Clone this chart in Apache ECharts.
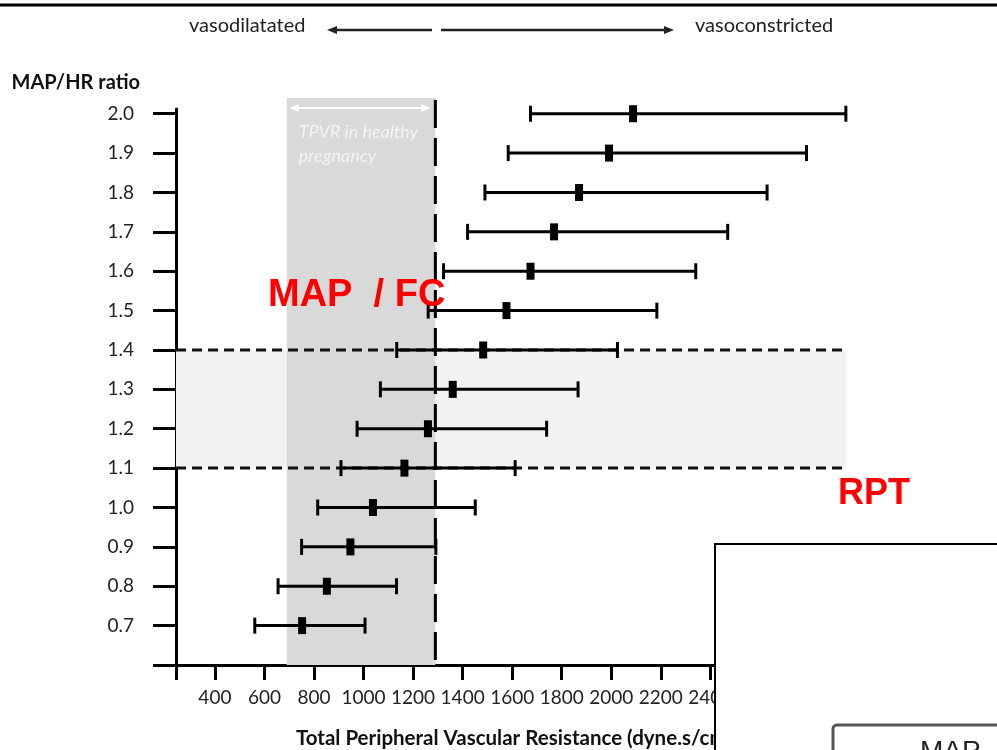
<!DOCTYPE html>
<html>
<head>
<meta charset="utf-8">
<script src="https://cdn.jsdelivr.net/npm/echarts@6.0.0/dist/echarts.min.js"></script>
<style>
  html, body { margin: 0; padding: 0; background: #fff; }
  #chart { width: 997px; height: 750px; }
</style>
</head>
<body>
<div id="chart"></div>
<script>
// MAP/HR ratio rows and TPVR (dyne.s/cm5)
var ratios   = [0.7, 0.8, 0.9, 1.0, 1.1, 1.2, 1.3, 1.4, 1.5, 1.6, 1.7, 1.8, 1.9, 2.0];
var tpvrLow  = [561, 655, 750, 815, 909, 974, 1068, 1134, 1261, 1323, 1420, 1490, 1584, 1674];
var tpvrMean = [752, 852, 947, 1038, 1165, 1260, 1360, 1483, 1577, 1674, 1769, 1870, 1991, 2088];
var tpvrHigh = [1006, 1133, 1292, 1451, 1612, 1739, 1866, 2025, 2184, 2341, 2470, 2629, 2788, 2947];

var xTickLabels = [400, 600, 800, 1000, 1200, 1400, 1600, 1800, 2000, 2200, 2400, 2600, 2800];
var yTickLabels = ratios;

var healthyRange = [690, 1290];   // TPVR in healthy pregnancy
var targetRatio = [1.1, 1.4];     // MAP/HR target band
var targetEnd = 2947;
var bandTop = 2.04;

var xMin = 243, xMax = 3000, yMin = 0.6, yMax = 2.012;

var font = 'Lato';
var chart = echarts.init(document.getElementById('chart'));

var barData = ratios.map(function (r, i) {
  return [r, tpvrLow[i], tpvrMean[i], tpvrHigh[i]];
});

var option = {
  animation: false,
  grid: { left: 176, right: 138, top: 109, bottom: 85, outerBoundsMode: 'none' },
  xAxis: {
    type: 'value',
    min: xMin,
    max: xMax,
    name: 'Total Peripheral Vascular Resistance (dyne.s/cm\u2075)',
    nameLocation: 'middle',
    nameGap: 63,
    nameTextStyle: { fontFamily: font, fontWeight: 'bold', fontSize: 20.5, color: '#111' },
    axisLine: { lineStyle: { color: '#000', width: 3 } },
    axisTick: {
      customValues: [xMin].concat(xTickLabels),
      length: 15,
      lineStyle: { color: '#000', width: 3 }
    },
    axisLabel: {
      customValues: xTickLabels,
      margin: 23,
      fontFamily: font, fontSize: 19, color: '#222',
      formatter: function (v) { return String(v); }
    },
    splitLine: { show: false }
  },
  yAxis: {
    type: 'value',
    min: yMin,
    max: yMax,
    name: 'MAP/HR ratio',
    nameLocation: 'end',
    nameGap: 16,
    nameTextStyle: { fontFamily: font, fontWeight: 'bold', fontSize: 20, color: '#111', align: 'right', padding: [0, 36, 0, 0] },
    axisLine: { lineStyle: { color: '#000', width: 3 } },
    axisTick: {
      customValues: [yMin].concat(yTickLabels),
      length: 23,
      lineStyle: { color: '#000', width: 3 }
    },
    axisLabel: {
      customValues: yTickLabels,
      margin: 42,
      fontFamily: font, fontSize: 19, color: '#222',
      formatter: function (v) { return v.toFixed(1); }
    },
    splitLine: { show: false }
  },
  series: [
    {
      type: 'custom',
      name: 'bands',
      z: 1,
      silent: true,
      data: [[healthyRange[0], healthyRange[1], targetRatio[0], targetRatio[1], targetEnd, bandTop]],
      renderItem: function (params, api) {
        var hl = api.value(0), hh = api.value(1);
        var tl = api.value(2), th = api.value(3);
        var te = api.value(4), bt = api.value(5);
        var tL = api.coord([xMin, th]), tR = api.coord([te, tl]);
        var gTL = api.coord([hl, bt]), gBR = api.coord([hh, yMin]);
        var l14a = api.coord([xMin, th]), l14b = api.coord([te, th]);
        var l11a = api.coord([xMin, tl]), l11b = api.coord([te, tl]);
        var ay = gTL[1] + 10;
        var ax1 = gTL[0] + 3, ax2 = gBR[0] - 5;
        return {
          type: 'group',
          children: [
            { type: 'rect', shape: { x: tL[0], y: tL[1], width: tR[0] - tL[0], height: tR[1] - tL[1] }, style: { fill: '#f2f2f2' } },
            { type: 'rect', shape: { x: gTL[0], y: gTL[1], width: gBR[0] - gTL[0], height: gBR[1] - gTL[1] }, style: { fill: '#d9d9d9' } },
            { type: 'line', shape: { x1: l14a[0], y1: l14a[1], x2: l14b[0], y2: l14b[1] }, style: { stroke: '#111', lineWidth: 3, lineDash: [10, 6] } },
            { type: 'line', shape: { x1: l11a[0], y1: l11a[1], x2: l11b[0], y2: l11b[1] }, style: { stroke: '#111', lineWidth: 3, lineDash: [10, 6] } },
            { type: 'line', shape: { x1: gBR[0], y1: gTL[1] + 2, x2: gBR[0], y2: gBR[1] }, style: { stroke: '#000', lineWidth: 3, lineDash: [28, 10] } },
            { type: 'line', shape: { x1: ax1 + 4, y1: ay, x2: ax2 - 4, y2: ay }, style: { stroke: '#fff', lineWidth: 2 } },
            { type: 'polygon', shape: { points: [[ax1, ay], [ax1 + 9, ay - 4], [ax1 + 9, ay + 4]] }, style: { fill: '#fff' } },
            { type: 'polygon', shape: { points: [[ax2, ay], [ax2 - 9, ay - 4], [ax2 - 9, ay + 4]] }, style: { fill: '#fff' } },
            { type: 'text', x: gTL[0] + 12, y: gTL[1] + 34, style: { text: 'TPVR in healthy', fontFamily: font, fontStyle: 'italic', fontSize: 18, fill: '#f4f4f4', verticalAlign: 'middle' } },
            { type: 'text', x: gTL[0] + 12, y: gTL[1] + 58, style: { text: 'pregnancy', fontFamily: font, fontStyle: 'italic', fontSize: 18, fill: '#f4f4f4', verticalAlign: 'middle' } }
          ]
        };
      }
    },
    {
      type: 'custom',
      name: 'TPVR',
      z: 5,
      encode: { x: [1, 2, 3], y: 0 },
      data: barData,
      renderItem: function (params, api) {
        var y = api.value(0);
        var pL = api.coord([api.value(1), y]);
        var pM = api.coord([api.value(2), y]);
        var pH = api.coord([api.value(3), y]);
        var st = { stroke: '#000', lineWidth: 3 };
        return {
          type: 'group',
          children: [
            { type: 'line', shape: { x1: pL[0], y1: pL[1], x2: pH[0], y2: pH[1] }, style: st },
            { type: 'line', shape: { x1: pL[0], y1: pL[1] - 8, x2: pL[0], y2: pL[1] + 8 }, style: st },
            { type: 'line', shape: { x1: pH[0], y1: pH[1] - 8, x2: pH[0], y2: pH[1] + 8 }, style: st },
            { type: 'rect', shape: { x: pM[0] - 4, y: pM[1] - 8.5, width: 8, height: 17 }, style: { fill: '#000' } }
          ]
        };
      }
    }
  ],
  graphic: [
    { type: 'line', z: 50, shape: { x1: 0, y1: 5, x2: 997, y2: 5 }, style: { stroke: '#000', lineWidth: 3 } },
    { type: 'text', z: 50, x: 189, y: 26, style: { text: 'vasodilatated', fontFamily: font, fontSize: 20, fill: '#222', verticalAlign: 'middle' } },
    { type: 'line', z: 50, shape: { x1: 334, y1: 30, x2: 432, y2: 30 }, style: { stroke: '#222', lineWidth: 2.5 } },
    { type: 'polygon', z: 50, shape: { points: [[327, 30], [337, 26], [337, 34]] }, style: { fill: '#222' } },
    { type: 'line', z: 50, shape: { x1: 441, y1: 30, x2: 667, y2: 30 }, style: { stroke: '#222', lineWidth: 2.5 } },
    { type: 'polygon', z: 50, shape: { points: [[674, 30], [664, 26], [664, 34]] }, style: { fill: '#222' } },
    { type: 'text', z: 50, x: 695, y: 26, style: { text: 'vasoconstricted', fontFamily: font, fontSize: 20, fill: '#222', verticalAlign: 'middle' } },
    { type: 'text', z: 60, x: 268, y: 296, style: { text: 'MAP  / FC', fontFamily: 'Liberation Sans', fontWeight: 'bold', fontSize: 38, fill: '#ff0000', verticalAlign: 'middle' } },
    { type: 'text', z: 60, x: 838, y: 494, style: { text: 'RPT', fontFamily: 'Liberation Sans', fontWeight: 'bold', fontSize: 36, fill: '#ff0000', verticalAlign: 'middle' } },
    { type: 'rect', z: 100, shape: { x: 715, y: 544, width: 300, height: 220 }, style: { fill: '#fff', stroke: '#000', lineWidth: 2 } },
    { type: 'rect', z: 101, shape: { x: 833, y: 725, width: 200, height: 60, r: 4 }, style: { fill: '#fff', stroke: '#555', lineWidth: 3 } },
    { type: 'text', z: 102, x: 920, y: 738, style: { text: 'MAP', fontFamily: 'Liberation Sans', fontSize: 28, fill: '#222', verticalAlign: 'top' } }
  ]
};

chart.setOption(option);
window.addEventListener('resize', function () { chart.resize(); });
</script>
</body>
</html>
